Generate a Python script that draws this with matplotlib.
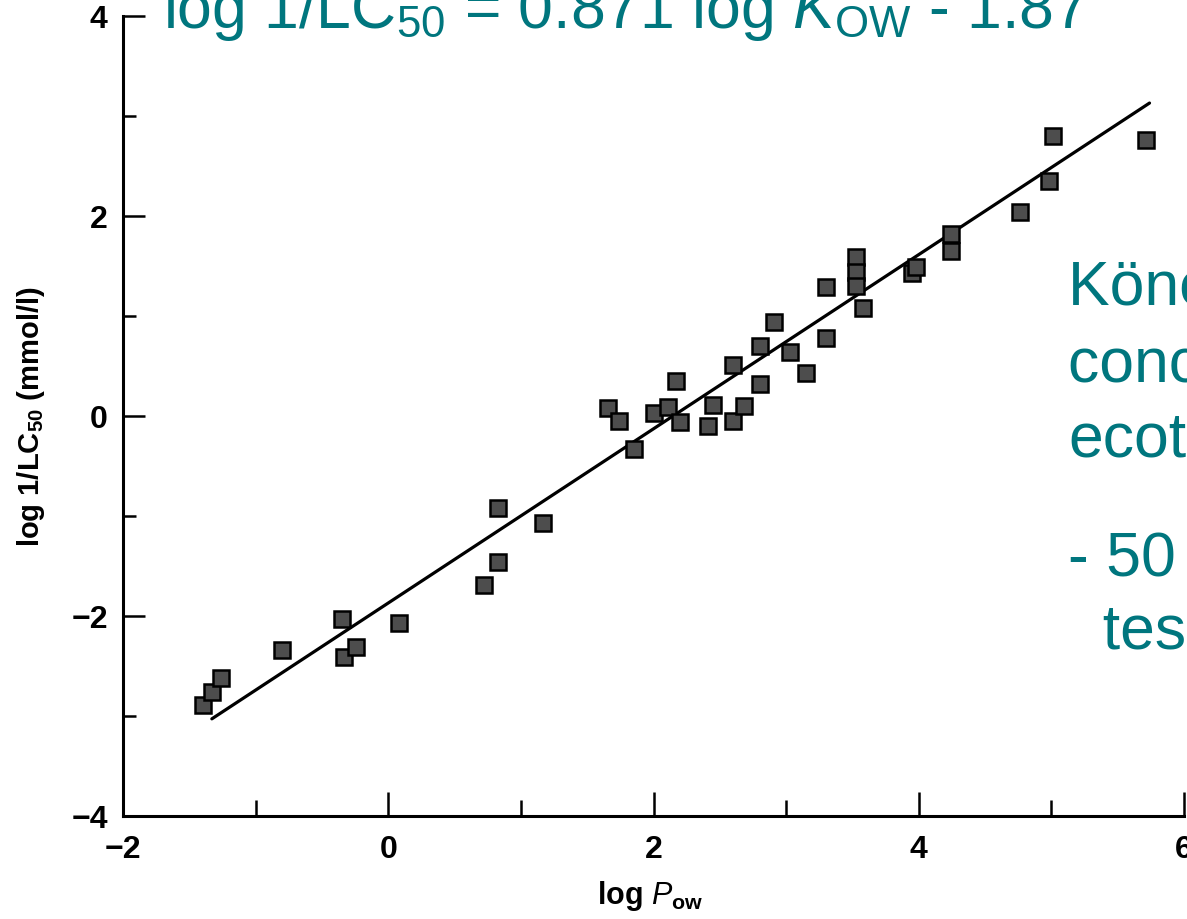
import matplotlib
matplotlib.use("Agg")
import matplotlib.pyplot as plt
from matplotlib.ticker import MultipleLocator

plt.rcParams['font.family'] = ['Liberation Sans', 'DejaVu Sans']
plt.rcParams['mathtext.fontset'] = 'custom'
plt.rcParams['mathtext.rm'] = 'Liberation Sans'
plt.rcParams['mathtext.it'] = 'Liberation Sans:italic'
plt.rcParams['mathtext.bf'] = 'Liberation Sans:bold'

# data
log_pow = [-1.40, -1.33, -1.26, -0.80, -0.35, -0.33, -0.24, 0.08, 0.72, 0.83,
           0.83, 1.17, 1.66, 1.74, 1.85, 2.00, 2.11, 2.17, 2.20, 2.41,
           2.45, 2.60, 2.60, 2.68, 2.80, 2.80, 2.91, 3.03, 3.15, 3.30,
           3.30, 3.53, 3.53, 3.53, 3.58, 3.95, 3.98, 4.24, 4.24, 4.76,
           4.98, 5.01, 5.71]
log_inv_lc50 = [-2.89, -2.76, -2.62, -2.34, -2.03, -2.41, -2.31, -2.07, -1.69, -0.92,
                -1.46, -1.07, 0.08, -0.05, -0.33, 0.03, 0.09, 0.35, -0.06, -0.10,
                0.11, 0.51, -0.05, 0.10, 0.70, 0.32, 0.94, 0.64, 0.43, 1.29,
                0.78, 1.59, 1.44, 1.30, 1.08, 1.43, 1.49, 1.82, 1.65, 2.04,
                2.35, 2.80, 2.76]

# regression line
slope = 0.871
intercept = -1.87
fit_range = [-1.33, 5.74]

notes_1 = ["Könemann (1981):", "concentration of", "ecotoxicity"]
notes_2 = ["- 50 chemicals", "  tested on guppies"]

teal = '#00767E'

fig = plt.figure(figsize=(11.87, 9.2), dpi=100)
ax = fig.add_axes([123 / 1187, 103 / 920, 1061 / 1187, 800 / 920])

fit_y = [slope * v + intercept for v in fit_range]
ax.plot(fit_range, fit_y, color='black', lw=2.3, solid_capstyle='round', zorder=2)
ax.plot(log_pow, log_inv_lc50, ls='none', marker='s', markersize=11,
        markerfacecolor='#4d4d4d', markeredgecolor='black', markeredgewidth=1.8, zorder=3)

ax.set_xlim(-2, 6)
ax.set_ylim(-4, 4)
ax.spines['top'].set_visible(False)
ax.spines['right'].set_visible(False)
ax.spines['left'].set_linewidth(2.2)
ax.spines['bottom'].set_linewidth(2.2)

ax.xaxis.set_major_locator(MultipleLocator(2))
ax.xaxis.set_minor_locator(MultipleLocator(1))
ax.yaxis.set_major_locator(MultipleLocator(2))
ax.yaxis.set_minor_locator(MultipleLocator(1))
ax.tick_params(axis='x', which='major', direction='in', length=17, width=1.8, pad=13,
               labelsize=23)
ax.tick_params(axis='x', which='minor', direction='in', length=11.5, width=1.8)
ax.tick_params(axis='y', which='major', direction='in', length=16, width=1.8, pad=11,
               labelsize=23)
ax.tick_params(axis='y', which='minor', direction='in', length=9.5, width=1.8)
for lab in ax.get_xticklabels() + ax.get_yticklabels():
    lab.set_fontweight('bold')

ax.set_xlabel(r'log $\mathbf{\mathit{P}}_{\mathbf{ow}}$', fontsize=22, fontweight='bold')
ax.set_ylabel(r'log 1/LC$_{\mathbf{50}}$ (mmol/l)', fontsize=21, fontweight='bold')
ax.xaxis.set_label_coords(0.497, -0.078)
ax.yaxis.set_label_coords(-0.072, 0.5)

fig.text(163 / 1187, 1 - 28 / 920, r'log 1/LC$_{50}$ = 0.871 log $K_{\mathrm{OW}}$ - 1.87',
         color=teal, fontsize=45, va='baseline', ha='left')

for i, line in enumerate(notes_1):
    fig.text(1068 / 1187, 1 - (305 + 76 * i) / 920, line, color=teal, fontsize=45,
             va='baseline', ha='left')
for i, line in enumerate(notes_2):
    fig.text(1068 / 1187, 1 - (575 + 74 * i) / 920, line, color=teal, fontsize=45,
             va='baseline', ha='left')

fig.savefig('out.png', dpi=100)
